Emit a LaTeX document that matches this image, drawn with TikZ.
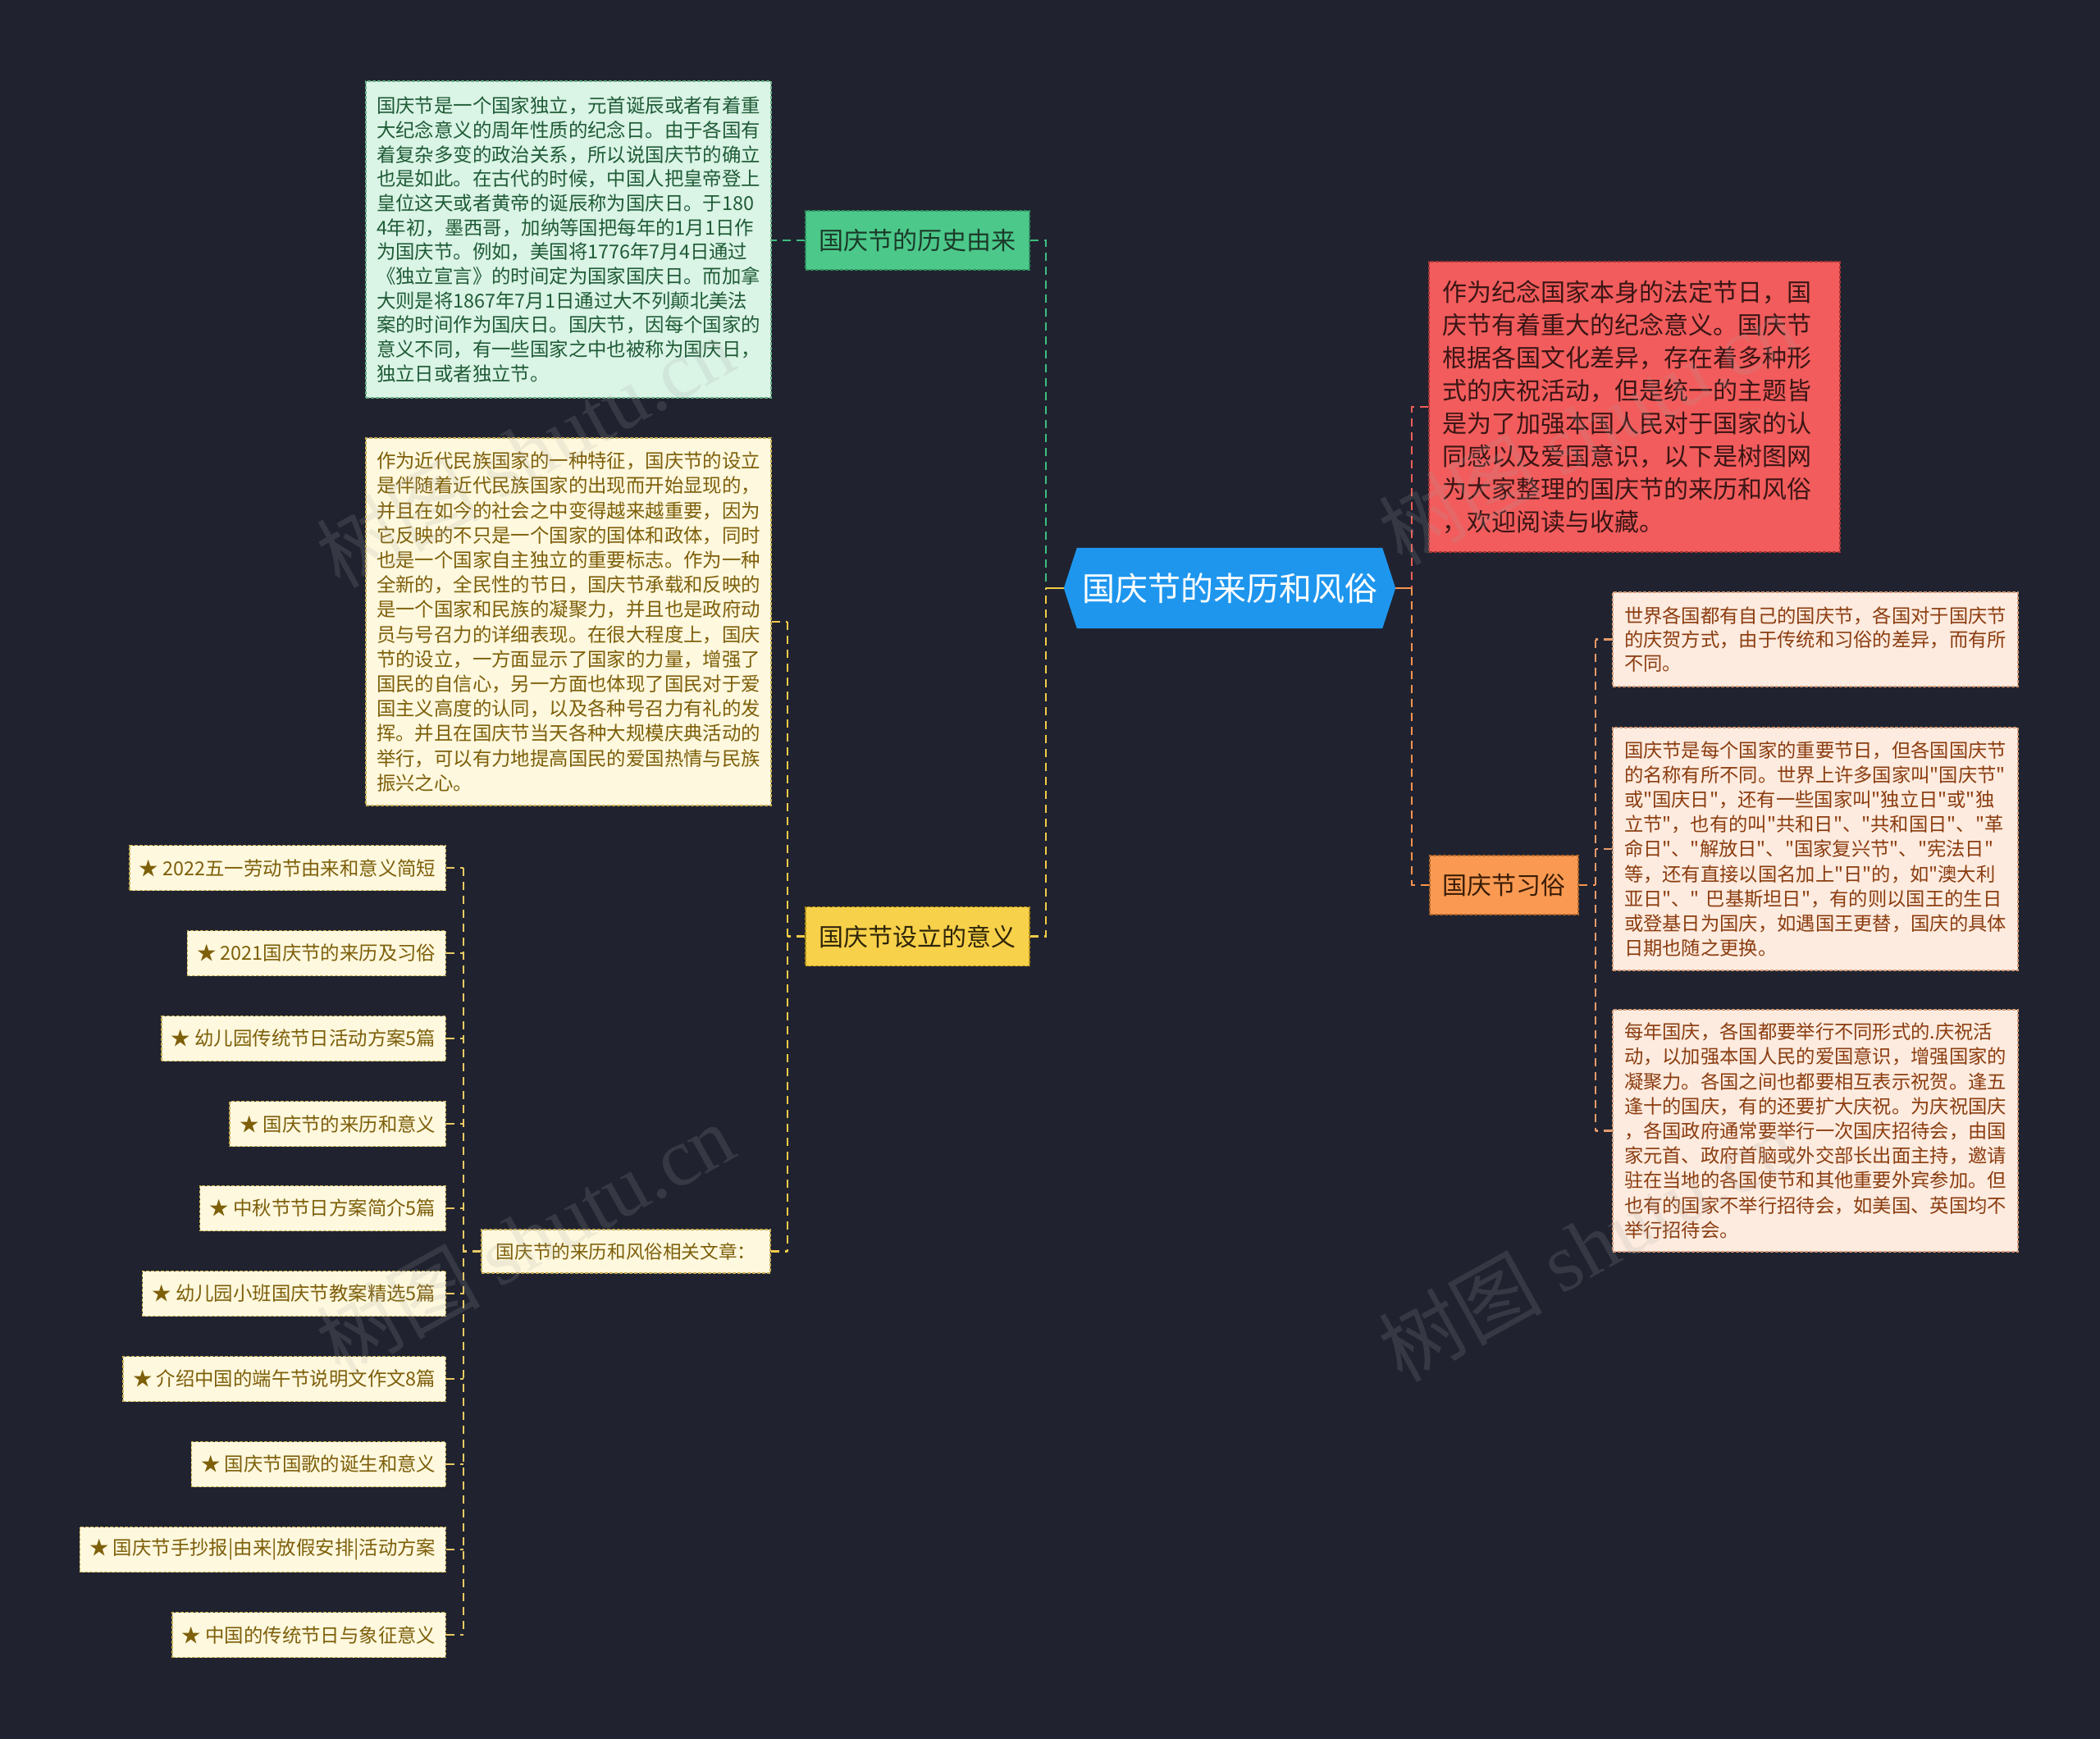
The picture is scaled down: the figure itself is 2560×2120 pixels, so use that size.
\documentclass[tikz,border=0pt]{standalone}
\usepackage{fontspec}
\newfontfamily\cjk{Noto Sans CJK SC}
\newfontfamily\wmfont{Liberation Serif}
\definecolor{bgc}{HTML}{20232F}
\definecolor{rootc}{HTML}{1E96EE}
\definecolor{histfill}{HTML}{4CC98A}
\definecolor{histdraw}{HTML}{2E8F5E}
\definecolor{histtext}{HTML}{1B3A29}
\definecolor{htfill}{HTML}{DAF4E6}
\definecolor{htdraw}{HTML}{6AAE86}
\definecolor{httext}{HTML}{1F5B36}
\definecolor{meanfill}{HTML}{F8D14A}
\definecolor{meandraw}{HTML}{B08C14}
\definecolor{meantext}{HTML}{2E2508}
\definecolor{mtfill}{HTML}{FDF8DE}
\definecolor{mtdraw}{HTML}{C8AE55}
\definecolor{mttext}{HTML}{7E5F0A}
\definecolor{introfill}{HTML}{F25C5C}
\definecolor{introdraw}{HTML}{A83434}
\definecolor{introtext}{HTML}{3B1515}
\definecolor{custfill}{HTML}{FA9A52}
\definecolor{custdraw}{HTML}{B0652A}
\definecolor{custtext}{HTML}{3A1C05}
\definecolor{cfill}{HTML}{FDEBDF}
\definecolor{cdraw}{HTML}{D49A78}
\definecolor{ctext}{HTML}{8B3D10}
\definecolor{lgreen}{HTML}{3DBE80}
\definecolor{lyellow}{HTML}{F2CB47}
\definecolor{lred}{HTML}{EE5E5A}
\definecolor{lorange}{HTML}{F7934F}
\definecolor{litem}{HTML}{E9C964}
\definecolor{lcust}{HTML}{E89B6C}
\pgfdeclarelayer{bglayer}
\pgfdeclarelayer{linelayer}
\pgfsetlayers{bglayer,linelayer,main}
\tikzset{
  boxline/.style={draw, dash pattern=on 4pt off 2pt, line width=1.3pt},
  conn/.style={line width=2.4pt, dash pattern=on 10pt off 7pt},
  connsolid/.style={line width=2.4pt},
  lvlzero/.style={minimum width=372pt, minimum height=98pt, inner sep=0pt, text=white,
     font=\cjk\fontsize{40}{48}\selectfont},
  lvlone/.style={boxline, minimum height=72pt, inner sep=0pt, font=\cjk\fontsize{30}{36}\selectfont},
  longtext/.style={boxline, align=left, inner ysep=0pt, font=\cjk\fontsize{23.4}{30.2}\selectfont},
  itembox/.style={boxline, fill=mtfill, draw=mtdraw, text=mttext, anchor=east, minimum height=55pt,
     inner xsep=12pt, inner ysep=0pt, font=\cjk\fontsize{23.4}{28}\selectfont},
  wmark/.style={rotate=29, text=gray!70, opacity=0.17, font=\fontsize{100}{110}\selectfont}
}
\begin{document}
\begin{tikzpicture}[x=1pt,y=-1pt]
\begin{pgfonlayer}{bglayer}
\fill[bgc] (0,0) rectangle (2560,2120);
\end{pgfonlayer}
\useasboundingbox (0,0) rectangle (2560,2120);

% root
\node[lvlzero] (root) at (1499,717) {国庆节的来历和风俗};

% level one
\node[lvlone, fill=histfill, draw=histdraw, text=histtext, minimum width=273pt] (hist) at (1118.5,293) {国庆节的历史由来};
\node[lvlone, fill=meanfill, draw=meandraw, text=meantext, minimum width=273pt] (mean) at (1118.5,1141.5) {国庆节设立的意义};
\node[lvlone, fill=custfill, draw=custdraw, text=custtext, minimum width=181pt] (cust) at (1833.5,1079) {国庆节习俗};
\node[boxline, fill=introfill, draw=introdraw, text=introtext, align=left, text width=469pt,
      inner xsep=16pt, inner ysep=0pt, minimum height=354pt, font=\cjk\fontsize{30}{40}\selectfont] (intro) at (1992.5,496) {%
作为纪念国家本身的法定节日，国\\
庆节有着重大的纪念意义。国庆节\\
根据各国文化差异，存在着多种形\\
式的庆祝活动，但是统一的主题皆\\
是为了加强本国人民对于国家的认\\
同感以及爱国意识，以下是树图网\\
为大家整理的国庆节的来历和风俗\\
，欢迎阅读与收藏。};

% history text
\node[longtext, fill=htfill, draw=htdraw, text=httext, text width=468pt, inner xsep=13pt,
      minimum height=386pt, font=\cjk\fontsize{23.4}{29.7}\selectfont] (htext) at (693,292) {%
国庆节是一个国家独立，元首诞辰或者有着重\\
大纪念意义的周年性质的纪念日。由于各国有\\
着复杂多变的政治关系，所以说国庆节的确立\\
也是如此。在古代的时候，中国人把皇帝登上\\
皇位这天或者黄帝的诞辰称为国庆日。于180\\
4年初，墨西哥，加纳等国把每年的1月1日作\\
为国庆节。例如，美国将1776年7月4日通过\\
《独立宣言》的时间定为国家国庆日。而加拿\\
大则是将1867年7月1日通过大不列颠北美法\\
案的时间作为国庆日。国庆节，因每个国家的\\
意义不同，有一些国家之中也被称为国庆日，\\
独立日或者独立节。};

% meaning text
\node[longtext, fill=mtfill, draw=mtdraw, text=mttext, text width=468pt, inner xsep=13pt,
      minimum height=448pt] (mtext) at (693,758) {%
作为近代民族国家的一种特征，国庆节的设立\\
是伴随着近代民族国家的出现而开始显现的，\\
并且在如今的社会之中变得越来越重要，因为\\
它反映的不只是一个国家的国体和政体，同时\\
也是一个国家自主独立的重要标志。作为一种\\
全新的，全民性的节日，国庆节承载和反映的\\
是一个国家和民族的凝聚力，并且也是政府动\\
员与号召力的详细表现。在很大程度上，国庆\\
节的设立，一方面显示了国家的力量，增强了\\
国民的自信心，另一方面也体现了国民对于爱\\
国主义高度的认同，以及各种号召力有礼的发\\
挥。并且在国庆节当天各种大规模庆典活动的\\
举行，可以有力地提高国民的爱国热情与民族\\
振兴之心。};

% related articles
\node[boxline, fill=mtfill, draw=mtdraw, text=mttext, minimum width=352pt, minimum height=53pt,
      inner sep=0pt, font=\cjk\fontsize{22.6}{27}\selectfont] (rel) at (763,1525.5) {国庆节的来历和风俗相关文章：};

% items
\node[itembox] (i1) at (544,1058) {★ 2022五一劳动节由来和意义简短};
\node[itembox] (i2) at (544,1162) {★ 2021国庆节的来历及习俗};
\node[itembox] (i3) at (544,1266) {★ 幼儿园传统节日活动方案5篇};
\node[itembox] (i4) at (544,1370) {★ 国庆节的来历和意义};
\node[itembox] (i5) at (544,1473) {★ 中秋节节日方案简介5篇};
\node[itembox] (i6) at (544,1577) {★ 幼儿园小班国庆节教案精选5篇};
\node[itembox] (i7) at (544,1681) {★ 介绍中国的端午节说明文作文8篇};
\node[itembox] (i8) at (544,1785) {★ 国庆节国歌的诞生和意义};
\node[itembox] (i9) at (544,1889) {★ 国庆节手抄报|由来|放假安排|活动方案};
\node[itembox] (i10) at (544,1993) {★ 中国的传统节日与象征意义};

% customs children
\node[longtext, fill=cfill, draw=cdraw, text=ctext, text width=466pt, inner xsep=14pt,
      minimum height=115pt, font=\cjk\fontsize{23.3}{29}\selectfont] (c1) at (2213,779.5) {%
世界各国都有自己的国庆节，各国对于国庆节\\
的庆贺方式，由于传统和习俗的差异，而有所\\
不同。};
\node[longtext, fill=cfill, draw=cdraw, text=ctext, text width=466pt, inner xsep=14pt,
      minimum height=296pt, font=\cjk\fontsize{23.3}{30.2}\selectfont] (c2) at (2213,1035) {%
国庆节是每个国家的重要节日，但各国国庆节\\
的名称有所不同。世界上许多国家叫"国庆节"\\
或"国庆日"，还有一些国家叫"独立日"或"独\\
立节"，也有的叫"共和日"、"共和国日"、"革\\
命日"、"解放日"、"国家复兴节"、"宪法日"\\
等，还有直接以国名加上"日"的，如"澳大利\\
亚日"、" 巴基斯坦日"，有的则以国王的生日\\
或登基日为国庆，如遇国王更替，国庆的具体\\
日期也随之更换。};
\node[longtext, fill=cfill, draw=cdraw, text=ctext, text width=466pt, inner xsep=14pt,
      minimum height=295pt, font=\cjk\fontsize{23.3}{30.2}\selectfont] (c3) at (2213,1378.5) {%
每年国庆，各国都要举行不同形式的.庆祝活\\
动，以加强本国人民的爱国意识，增强国家的\\
凝聚力。各国之间也都要相互表示祝贺。逢五\\
逢十的国庆，有的还要扩大庆祝。为庆祝国庆\\
，各国政府通常要举行一次国庆招待会，由国\\
家元首、政府首脑或外交部长出面主持，邀请\\
驻在当地的各国使节和其他重要外宾参加。但\\
也有的国家不举行招待会，如美国、英国均不\\
举行招待会。};

% junction coordinates
\coordinate (LT) at (1275,717);
\coordinate (RT) at (1721,717);
\coordinate (MT) at (960,1141.5);
\coordinate (IT) at (565,1525.5);
\coordinate (CT) at (1945,1079);

\begin{pgfonlayer}{linelayer}
% root trunks
\draw[conn, lgreen] (hist.east) -- (hist.east -| LT) -- (LT);
\draw[conn, lyellow] (mean.east) -- (mean.east -| LT) -- (LT);
\draw[connsolid, lyellow] (root.west) -- (LT);
\draw[conn, lred] (intro.west) -- (intro.west -| RT) -- (RT);
\draw[conn, lorange] (cust.west) -- (cust.west -| RT) -- (RT);
\draw[connsolid, lorange] (root.east) -- (RT);
% history
\draw[conn, lgreen] (hist.west) -- (hist.west -| htext.east);
% meaning
\draw[conn, lyellow] (mean.west) -- (MT);
\draw[conn, lyellow] (mtext.east -| MT) -- (rel.east -| MT);
\draw[conn, lyellow] (mtext.east) -- (mtext.east -| MT);
\draw[conn, lyellow] (rel.east) -- (rel.east -| MT);
% items
\draw[conn, litem] (rel.west) -- (IT);
\draw[conn, litem] (i1.east -| IT) -- (i10.east -| IT);
\foreach \n in {i1,i2,i3,i4,i5,i6,i7,i8,i9,i10}{
  \draw[conn, litem] (\n.east) -- (\n.east -| IT);
}
% customs
\draw[conn, lorange] (cust.east) -- (CT);
\draw[conn, lcust] (c1.west -| CT) -- (c3.west -| CT);
\draw[conn, lcust] (c1.west) -- (c1.west -| CT);
\draw[conn, lcust] (c2.west) -- (c2.west -| CT);
\draw[conn, lcust] (c3.west) -- (c3.west -| CT);
% root shape
\fill[rootc] ([xshift=-16pt]root.west) -- (root.north west) -- (root.north east)
  -- ([xshift=16pt]root.east) -- (root.south east) -- (root.south west) -- cycle;
\end{pgfonlayer}

% watermarks
\node[wmark] (wm1) at (640,550) {\cjk 树图 \wmfont shutu.cn};
\node[wmark] (wm2) at (1935,522) {\cjk 树图 \wmfont shutu.cn};
\node[wmark] (wm3) at (640,1510) {\cjk 树图 \wmfont shutu.cn};
\node[wmark] (wm4) at (1935,1518) {\cjk 树图 \wmfont shutu.cn};
\end{tikzpicture}
\end{document}
